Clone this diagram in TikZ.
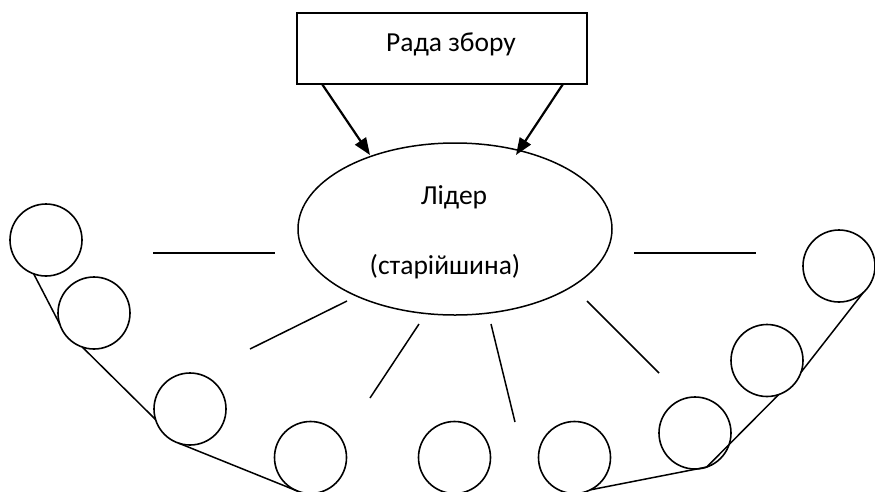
\documentclass[tikz,border=0pt]{standalone}
\usepackage{fontspec}
\setmainfont{Carlito}
\usetikzlibrary{arrows.meta,shapes.geometric}
\begin{document}
\begin{tikzpicture}[x=1pt,y=-1pt,
  every node/.style={inner sep=0pt,outer sep=0pt},
  member/.style={draw,circle,line width=1.6pt,minimum size=72pt},
  council/.style={draw,rectangle,line width=1.6pt,minimum width=290pt,minimum height=71pt},
  leader/.style={draw,ellipse,line width=1.5pt,minimum width=314pt,minimum height=172pt},
  caption/.style={font=\fontsize{27.5}{32}\selectfont},
  link/.style={line width=1.5pt},
  order/.style={line width=2.2pt,-{Triangle[length=17pt,width=13pt]}}]
\useasboundingbox (0,0) rectangle (875,491);
\clip (0,0) rectangle (875,491);

% council box and the leader ellipse
\node[council] (rada) at (442,48.5) {};
\node[caption] (radatext) at (451,44) {Рада збору};
\node[leader] (lider) at (455,229) {};
\node[caption] (lidertext) at (454,197) {Лідер};
\node[caption] (starshyna) at (445,267) {(старійшина)};

% arrows from the council to the leader
\coordinate (ra) at (322,84);
\coordinate (rb) at (563,84);
\coordinate (la) at (370,155);
\coordinate (lb) at (516,155);
\draw[order] (ra) -- (la);
\draw[order] (rb) -- (lb);

% members around the leader
\node[member] (m1) at (46,240) {};
\node[member] (m2) at (94,313) {};
\node[member] (m3) at (190,409) {};
\node[member] (m4) at (310.5,457.5) {};
\node[member] (m5) at (454.5,457.5) {};
\node[member] (m6) at (574.5,457.5) {};
\node[member] (m7) at (695,433) {};
\node[member] (m8) at (767,360.5) {};
\node[member] (m9) at (839,266) {};

% short lines radiating from the leader
\coordinate (h1a) at (153,253); \coordinate (h1b) at (275,253);
\coordinate (h2a) at (634,253); \coordinate (h2b) at (756,253);
\coordinate (s1a) at (347,301); \coordinate (s1b) at (250,349);
\coordinate (s2a) at (419,324); \coordinate (s2b) at (370,398);
\coordinate (s3a) at (491,324); \coordinate (s3b) at (515,422);
\coordinate (s4a) at (587,301); \coordinate (s4b) at (659,373);
\draw[link] (h1a) -- (h1b);
\draw[link] (h2a) -- (h2b);
\draw[link] (s1a) -- (s1b);
\draw[link] (s2a) -- (s2b);
\draw[link] (s3a) -- (s3b);
\draw[link] (s4a) -- (s4b);

% chain linking the members
\draw[link] (m1.-110) -- (m2.-162);
\draw[link] (m2.-109) -- (m3.-163);
\draw[link] (m3.-108) -- (m4.-111);
\draw[link] (m6.-64) -- (m7.-71);
\draw[link] (m7.-71) -- (m8.-71);
\draw[link] (m8.-19) -- (m9.-48);
\end{tikzpicture}
\end{document}
